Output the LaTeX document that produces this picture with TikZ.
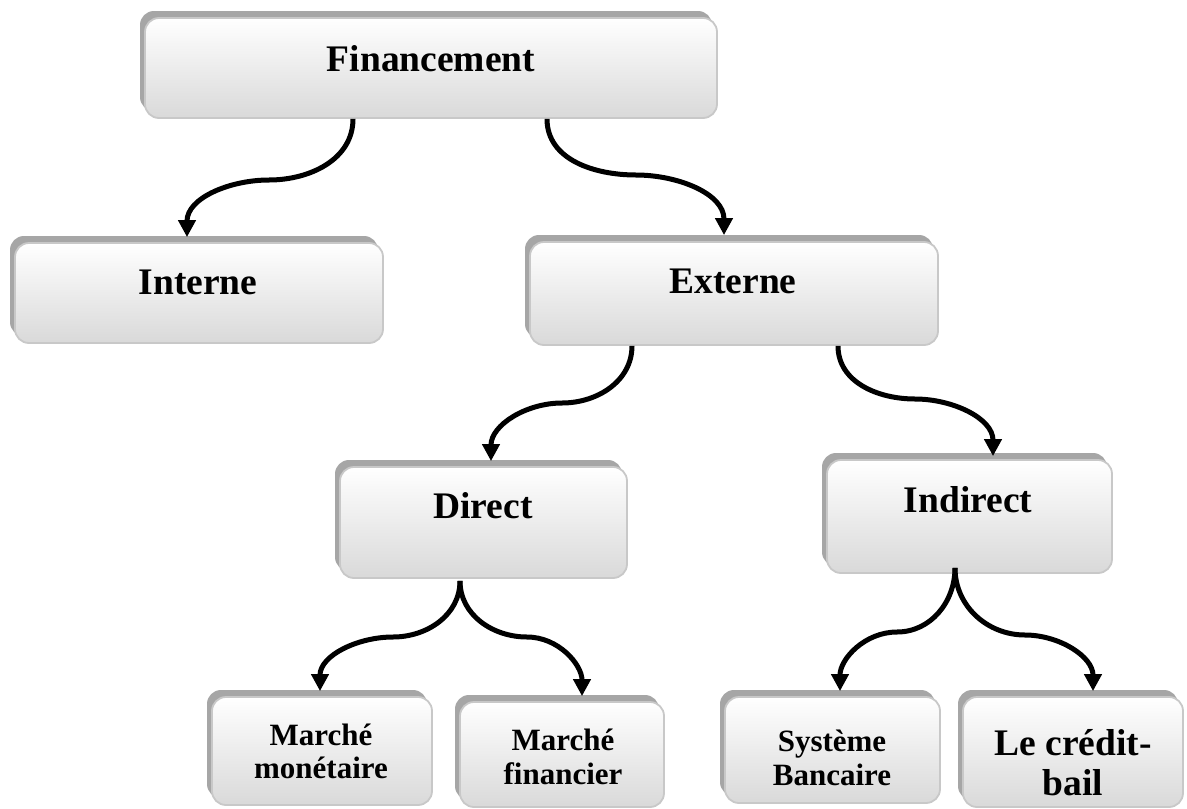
\documentclass[tikz,border=0pt]{standalone}
\usepackage{fontspec}
\setmainfont{Liberation Serif}
\usetikzlibrary{shadows,arrows.meta}
\definecolor{boxedge}{HTML}{C8C8C8}
\definecolor{boxbot}{HTML}{D9D9D9}
\definecolor{boxshadow}{HTML}{A6A6A6}
\tikzset{
  box/.style={rounded corners=14pt, draw=boxedge, line width=1.8pt,
    top color=white, bottom color=boxbot, inner sep=0pt,
    general shadow={fill=boxshadow, shadow xshift=-5pt, shadow yshift=7pt}},
  big/.style={font=\fontsize{37.5}{40}\selectfont\bfseries, inner sep=0pt, anchor=base},
  small/.style={font=\fontsize{31}{33}\selectfont\bfseries, inner sep=0pt, anchor=base},
  link/.style={line width=5pt, -{Triangle[length=17pt,width=17pt]}}
}
\begin{document}
\begin{tikzpicture}[x=1pt,y=-1pt]
\useasboundingbox (0,0) rectangle (1187,809);
% boxes
\node[box, minimum width=572pt, minimum height=100pt] (fin) at (431,68) {};
\node[box, minimum width=368pt, minimum height=100pt] (int) at (199,293) {};
\node[box, minimum width=408pt, minimum height=103pt] (ext) at (734,293.5) {};
\node[box, minimum width=287pt, minimum height=111pt] (dir) at (483.5,522.5) {};
\node[box, minimum width=285pt, minimum height=113pt] (ind) at (969.5,516.5) {};
\node[box, minimum width=220pt, minimum height=108pt] (mm) at (322,751) {};
\node[box, minimum width=204pt, minimum height=105pt] (mf) at (562,754.5) {};
\node[box, minimum width=215pt, minimum height=106pt] (sb) at (832.5,750) {};
\node[box, minimum width=220pt, minimum height=110pt] (cb) at (1073,752) {};
% labels
\node[big] (tfin) at (431,71) {Financement};
\node[big] (tint) at (198,294) {Interne};
\node[big] (text) at (733,293) {Externe};
\node[big] (tdir) at (483,518) {Direct};
\node[big] (tind) at (968,512) {Indirect};
\node[small] (tmm1) at (321,745) {Marché};
\node[small] (tmm2) at (321,778) {monétaire};
\node[small] (tmf1) at (563,750) {Marché};
\node[small] (tmf2) at (563,784) {financier};
\node[small] (tsb1) at (832,751) {Système};
\node[small] (tsb2) at (832,785) {Bancaire};
\node[big] (tcb1) at (1073,755) {Le crédit-};
\node[big] (tcb2) at (1073,795) {bail};
% connectors
\draw[link] ([xshift=-78pt]fin.south) to[out=-90,in=0] (269,180) to[out=180,in=90] ([xshift=-12pt,yshift=5pt]int.north);
\draw[link] ([xshift=116pt]fin.south) to[out=-90,in=180] (636,175) to[out=0,in=90] ([xshift=-10pt,yshift=6pt]ext.north);
\draw[link] ([xshift=-102pt]ext.south) to[out=-90,in=0] (562,403) to[out=180,in=90] ([xshift=7.5pt,yshift=5pt]dir.north);
\draw[link] ([xshift=104pt]ext.south) to[out=-90,in=180] (915,399) to[out=0,in=90] ([xshift=23.5pt,yshift=3pt]ind.north);
\draw[link] ([xshift=-23.5pt,yshift=-2pt]dir.south) to[out=-90,in=0] (393,637) to[out=180,in=90] ([xshift=-2pt,yshift=5pt]mm.north);
\draw[link] ([xshift=-23.5pt,yshift=-2pt]dir.south) to[out=-90,in=180] (527,637) to[out=0,in=90] ([xshift=20pt,yshift=5pt]mf.north);
\draw[link] ([xshift=-14.5pt,yshift=6pt]ind.south) to[out=-90,in=0] (897,632) to[out=180,in=90] ([xshift=7.5pt,yshift=5pt]sb.north);
\draw[link] ([xshift=-14.5pt,yshift=6pt]ind.south) to[out=-90,in=180] (1025,635) to[out=0,in=90] ([xshift=20pt,yshift=5pt]cb.north);
\end{tikzpicture}
\end{document}
